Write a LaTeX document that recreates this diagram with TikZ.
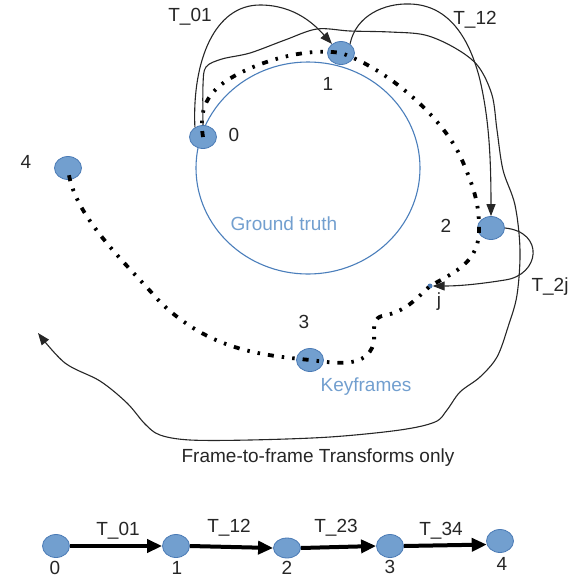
\documentclass[tikz,border=0pt]{standalone}
\usepackage{fontspec}
\setmainfont{Liberation Sans}
\usetikzlibrary{arrows.meta,shapes.geometric}
\definecolor{nodeblue}{HTML}{729FCF}
\definecolor{nodeedge}{HTML}{4A7AB5}
\definecolor{gtblue}{HTML}{4A7EBB}
\definecolor{txtblue}{HTML}{729FCF}
\begin{document}
\begin{tikzpicture}[x=1pt,y=-1pt,
  font=\fontsize{19}{22}\selectfont,
  kf/.style={ellipse, draw=nodeedge, fill=nodeblue, line width=0.8pt, minimum width=27pt, minimum height=23pt, inner sep=0pt},
  lbl/.style={inner sep=0pt, text=black!85},
  bluelbl/.style={inner sep=0pt, text=txtblue},
  traj/.style={line width=3.8pt, dash pattern=on 6pt off 8pt on 2.5pt off 8pt on 2.5pt off 8pt},
  tline/.style={line width=1.1pt, draw=black!85},
  tip/.style={-{Triangle[length=12pt,width=9pt]}},
  bigtip/.style={-{Triangle[length=15pt,width=13pt]}}]
\useasboundingbox (0,0) rectangle (575,579);

% ground truth
\node[ellipse, draw=gtblue, line width=1.1pt, minimum width=224pt, minimum height=212pt, inner sep=0pt] (gt) at (308,168) {};
\node[bluelbl] (gtl) at (284,224) {Ground truth};

% keyframes
\node[kf] (n0) at (203,137) {};
\node[kf] (n1) at (341,53) {};
\node[kf] (n2) at (491,228) {};
\node[kf] (n3) at (310,360) {};
\node[kf] (n4) at (68,168) {};
\node[circle, fill=nodeedge, minimum size=5pt, inner sep=0pt] (j) at (430,286) {};

\node[lbl] (l0) at (234,135) {0};
\node[lbl] (l1) at (328,84) {1};
\node[lbl] (l2) at (446,226) {2};
\node[lbl] (lj) at (439,302) {j};
\node[lbl] (l3) at (304,322) {3};
\node[lbl] (l4) at (26,162) {4};
\node[bluelbl] (kfl) at (366,387) {Keyframes};

\node[lbl] (t01) at (190,17) {T\_01};
\node[lbl] (t12) at (475,20) {T\_12};
\node[lbl] (t2j) at (550,287) {T\_2j};
\node[lbl] (ftf) at (318,458) {Frame-to-frame Transforms only};

% trajectory
\draw[traj] (n0.center) .. controls (198,105) and (210,88) .. (240,73)
  .. controls (270,58) and (310,48) .. (n1.center)
  .. controls (390,70) and (445,120) .. (462,160)
  .. controls (475,190) and (479,205) .. (479,228)
  .. controls (480,262) and (455,272) .. (j.center)
  .. controls (415,300) and (405,312) .. (382,316)
  .. controls (368,320) and (378,338) .. (372,348)
  .. controls (362,368) and (335,363) .. (n3.center)
  .. controls (260,355) and (210,350) .. (160,302)
  .. controls (125,262) and (72,215) .. (n4.center);

% T_01
\draw[tline, tip] (n0.130) .. controls (192,60) and (215,5) .. (260,5)
  .. controls (295,5) and (315,25) .. (n1.135);
% T_12
\draw[tline, tip] (n1.45) .. controls (356,15) and (385,3) .. (410,4)
  .. controls (450,5) and (470,40) .. (480,80)
  .. controls (488,115) and (491,150) .. (n2.north);
% T_2j
\draw[tline, tip] (n2.east) .. controls (545,232) and (540,275) .. (505,280)
  .. controls (480,284) and (460,286) .. (j.east);
% frame-to-frame drift
\coordinate (fend) at (38,333);
\draw[tline, tip] plot[smooth, tension=0.55] coordinates {(n0.north) (203,85) (206,67) (222,59) (250,53) (285,40) (317,29) (350,31) (390,32) (425,35) (455,48) (478,66) (492,95) (497,130) (503,170) (515,205) (520,250) (517,295) (508,327) (497,357) (480,377) (460,392) (447,410) (435,422) (400,430) (330,437) (250,440) (190,440) (160,435) (145,424) (127,403) (100,381) (65,363) (fend)};

% bottom chain
\node[kf] (b0) at (56,546) {};
\node[kf] (b1) at (176,546) {};
\node[kf, minimum height=20pt] (b2) at (287,548) {};
\node[kf] (b3) at (390,546) {};
\node[kf] (b4) at (500,541) {};
\draw[line width=4pt, bigtip] (b0.east) -- (b1.west);
\draw[line width=4pt, bigtip] (b1.east) -- (b2.west);
\draw[line width=4pt, bigtip] (b2.east) -- (b3.west);
\draw[line width=4pt, bigtip] (b3.east) -- (b4.195);
\node[lbl] (bt01) at (118,531) {T\_01};
\node[lbl] (bt12) at (229,528) {T\_12};
\node[lbl] (bt23) at (336,528) {T\_23};
\node[lbl] (bt34) at (441,531) {T\_34};
\node[lbl] (bl0) at (55,568) {0};
\node[lbl] (bl1) at (177,568) {1};
\node[lbl] (bl2) at (287,568) {2};
\node[lbl] (bl3) at (390,567) {3};
\node[lbl] (bl4) at (502,564) {4};
\end{tikzpicture}
\end{document}
